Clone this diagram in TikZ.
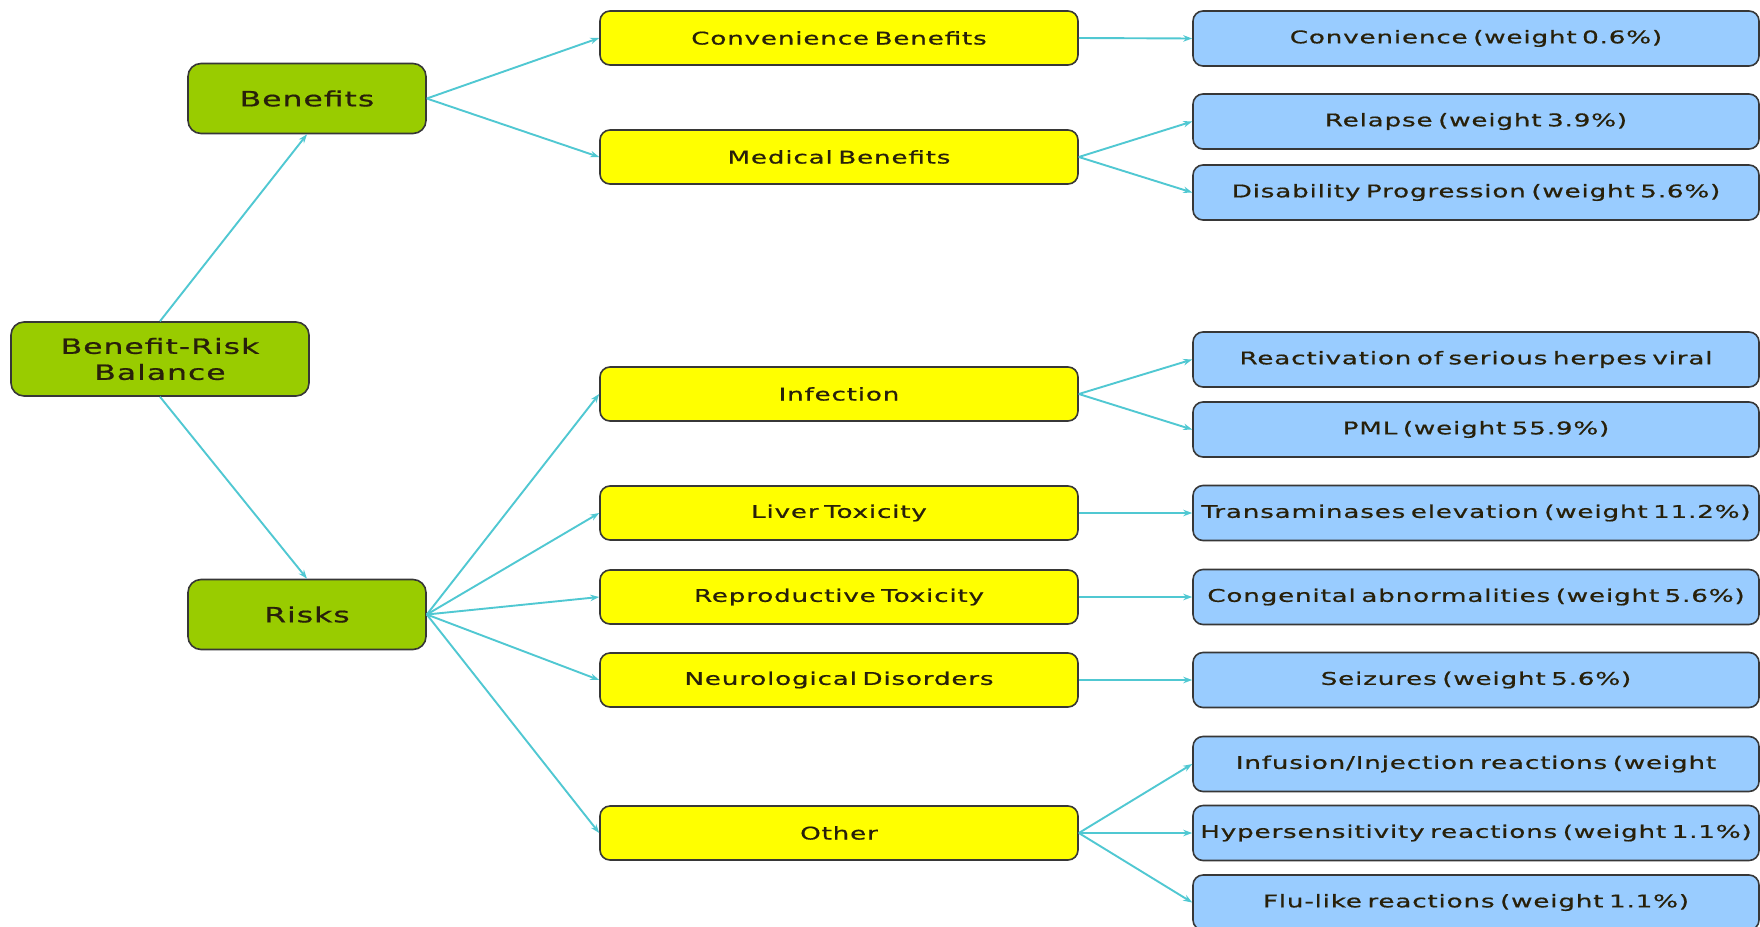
\documentclass[tikz,border=0pt]{standalone}
\usepackage{fontspec}
\setmainfont{DejaVu Sans}[FakeStretch=1.5,LetterSpace=4.5,WordSpace=0.6,FakeBold=0.7]
\usetikzlibrary{arrows.meta}
\definecolor{grn}{RGB}{153,204,0}
\definecolor{ylw}{RGB}{255,255,0}
\definecolor{blu}{RGB}{153,204,255}
\definecolor{edgegray}{RGB}{55,55,55}
\definecolor{linkcyan}{RGB}{80,200,210}
\definecolor{ink}{RGB}{40,32,10}
\begin{document}
\begin{tikzpicture}[x=1pt,y=-1pt,
  box/.style={draw=edgegray,line width=1.6pt,rounded corners=10pt,inner sep=0pt,
    text=ink,font=\fontsize{17.5}{21}\selectfont,align=center},
  topic/.style={box,fill=grn,minimum width=238pt,minimum height=70pt,rounded corners=13pt,
    font=\fontsize{21}{26}\selectfont},
  area/.style={box,fill=ylw,minimum width=478pt,minimum height=54pt},
  crit/.style={box,fill=blu,minimum width=566pt,minimum height=55pt},
  conn/.style={draw=linkcyan,line width=1.9pt,-{Stealth[length=9pt,width=6.5pt]}}]
\useasboundingbox (0,0) rectangle (1760,926);
\fill[white] (0,0) rectangle (1760,926);

% root and the two branches
\node[topic,minimum width=298pt,minimum height=74pt] (brb) at (160,359) {Benefit-Risk\\Balance};
\node[topic] (ben) at (307,98.5) {Benefits};
\node[topic] (risk) at (307,614.5) {Risks};

% second level
\node[area] (convb) at (839,38) {Convenience Benefits};
\node[area] (medb) at (839,157) {Medical Benefits};
\node[area] (inf) at (839,394) {Infection};
\node[area] (liver) at (839,513) {Liver Toxicity};
\node[area] (repro) at (839,597) {Reproductive Toxicity};
\node[area] (neuro) at (839,680) {Neurological Disorders};
\node[area] (other) at (839,833) {Other};

% criteria with weights
\node[crit] (conv) at (1476,38.5) {Convenience (weight 0.6\%)};
\node[crit] (rel) at (1476,121.5) {Relapse (weight 3.9\%)};
\node[crit] (dis) at (1476,192.5) {Disability Progression (weight 5.6\%)};
\node[crit] (herp) at (1476,359.5) {Reactivation of serious herpes viral};
\node[crit] (pml) at (1476,429.5) {PML (weight 55.9\%)};
\node[crit] (trans) at (1476,513) {Transaminases elevation (weight 11.2\%)};
\node[crit] (cong) at (1476,597) {Congenital abnormalities (weight 5.6\%)};
\node[crit] (seiz) at (1476,680) {Seizures (weight 5.6\%)};
\node[crit] (infu) at (1476,764) {Infusion/Injection reactions (weight};
\node[crit] (hyp) at (1476,833) {Hypersensitivity reactions (weight 1.1\%)};
\node[crit] (flu) at (1476,902.5) {Flu-like reactions (weight 1.1\%)};

% connectors
\draw[conn] (brb.north) -- (ben.south);
\draw[conn] (brb.south) -- (risk.north);
\draw[conn] (ben.east) -- (convb.west);
\draw[conn] (ben.east) -- (medb.west);
\foreach \t in {inf,liver,repro,neuro,other}
  \draw[conn] (risk.east) -- (\t.west);
\draw[conn] (convb.east) -- (conv.west);
\draw[conn] (medb.east) -- (rel.west);
\draw[conn] (medb.east) -- (dis.west);
\draw[conn] (inf.east) -- (herp.west);
\draw[conn] (inf.east) -- (pml.west);
\draw[conn] (liver.east) -- (trans.west);
\draw[conn] (repro.east) -- (cong.west);
\draw[conn] (neuro.east) -- (seiz.west);
\draw[conn] (other.east) -- (infu.west);
\draw[conn] (other.east) -- (hyp.west);
\draw[conn] (other.east) -- (flu.west);
\end{tikzpicture}
\end{document}
